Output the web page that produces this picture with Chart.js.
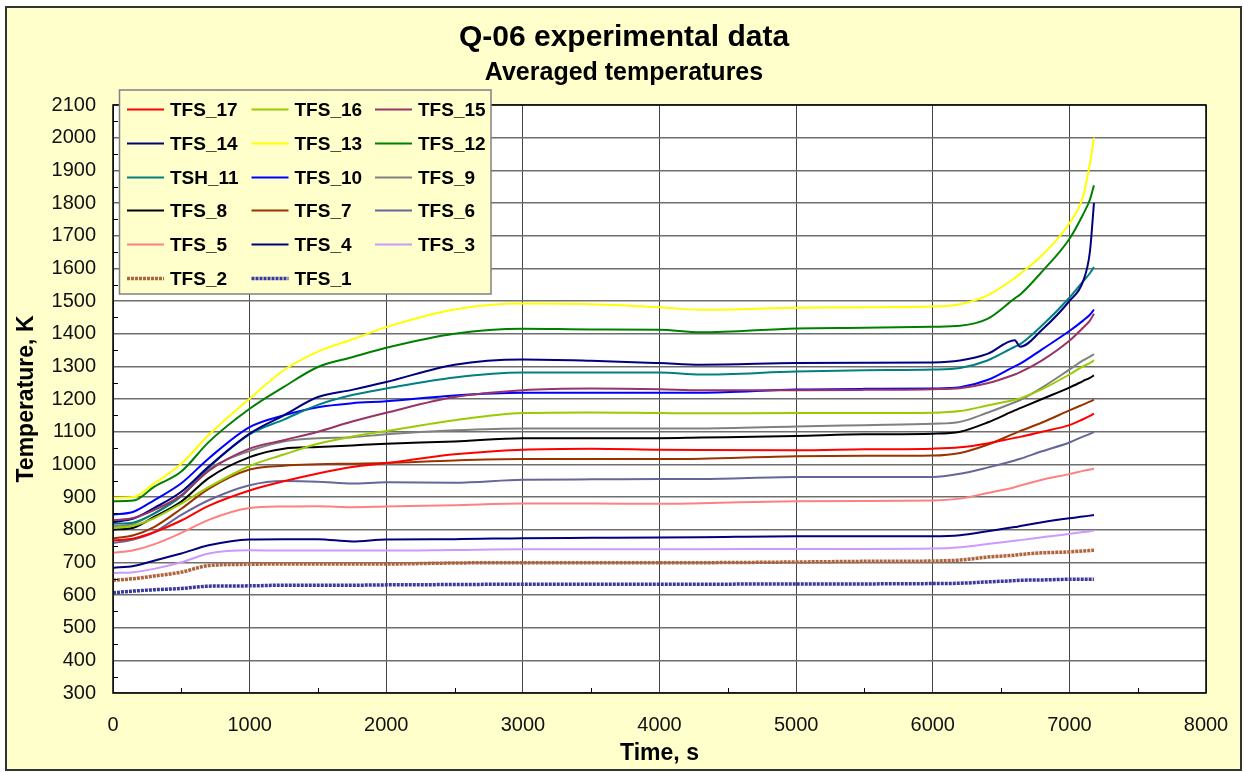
<!DOCTYPE html>
<html>
<head>
<meta charset="utf-8">
<title>Q-06 experimental data</title>
<script src="https://cdn.jsdelivr.net/npm/chart.js@4.4.1/dist/chart.umd.min.js"></script>
<style>
  html, body { margin: 0; padding: 0; background: #ffffff; }
  #wrap { position: relative; width: 1244px; height: 772px; }
</style>
</head>
<body>
<div id="wrap"><canvas id="tempChart" width="1244" height="772"></canvas></div>
<script>
// Time points, s
const times = [0, 150, 300, 500, 700, 1000, 1250, 1500, 1750, 2000, 2500, 3000, 3500, 4000, 4300,
               5000, 5500, 6000, 6200, 6400, 6600, 6640, 6800, 7000, 7100, 7150, 7180];

// Averaged temperatures, K
const tfs17 = [767, 773, 792, 828, 873, 920, 948, 972, 992, 1004, 1031, 1045, 1048, 1045, 1044, 1043, 1046, 1048, 1052, 1064, 1081, 1084, 1100, 1120, 1138, 1148, 1155];
const tfs16 = [805, 812, 835, 880, 930, 995, 1030, 1063, 1085, 1102, 1135, 1157, 1159, 1157, 1156, 1157, 1157, 1158, 1163, 1180, 1198, 1202, 1230, 1275, 1300, 1310, 1318];
const tfs15 = [829, 836, 860, 905, 980, 1048, 1074, 1100, 1131, 1158, 1206, 1227, 1232, 1230, 1227, 1227, 1228, 1230, 1233, 1248, 1275, 1282, 1318, 1378, 1418, 1440, 1461];
const tfs14 = [823, 834, 866, 916, 993, 1094, 1150, 1206, 1228, 1252, 1305, 1321, 1317, 1310, 1305, 1310, 1311, 1312, 1318, 1338, 1380, 1360, 1412, 1500, 1560, 1650, 1800];
const tfs13 = [898, 900, 941, 1002, 1090, 1201, 1288, 1345, 1382, 1420, 1474, 1492, 1490, 1481, 1473, 1479, 1481, 1483, 1490, 1517, 1570, 1583, 1640, 1738, 1820, 1920, 2000];
const tfs12 = [887, 889, 931, 978, 1068, 1170, 1237, 1298, 1328, 1357, 1400, 1415, 1413, 1412, 1404, 1416, 1418, 1421, 1424, 1445, 1508, 1520, 1590, 1690, 1765, 1810, 1854];
const tsh11 = [818, 822, 849, 902, 990, 1092, 1137, 1182, 1212, 1232, 1266, 1281, 1281, 1281, 1275, 1284, 1288, 1290, 1295, 1318, 1360, 1368, 1425, 1510, 1560, 1585, 1604];
const tfs10 = [846, 855, 890, 942, 1018, 1114, 1150, 1175, 1187, 1193, 1211, 1219, 1219, 1219, 1219, 1229, 1231, 1232, 1236, 1258, 1300, 1308, 1352, 1408, 1440, 1458, 1474];
const tfs9  = [810, 818, 849, 905, 985, 1041, 1070, 1080, 1083, 1092, 1104, 1110, 1110, 1110, 1110, 1116, 1120, 1124, 1130, 1158, 1190, 1197, 1235, 1290, 1318, 1330, 1337];
const tfs8  = [800, 806, 839, 886, 958, 1022, 1048, 1053, 1058, 1063, 1070, 1080, 1080, 1080, 1082, 1087, 1092, 1094, 1100, 1128, 1165, 1172, 1200, 1235, 1255, 1265, 1272];
const tfs7  = [773, 783, 808, 864, 925, 984, 996, 1000, 1002, 1004, 1012, 1016, 1016, 1016, 1017, 1025, 1026, 1027, 1035, 1060, 1095, 1102, 1128, 1165, 1183, 1192, 1198];
const tfs6  = [759, 770, 792, 845, 890, 936, 949, 947, 941, 945, 944, 953, 954, 955, 955, 961, 961, 961, 971, 990, 1012, 1017, 1040, 1067, 1085, 1093, 1099];
const tfs5  = [729, 737, 755, 790, 830, 866, 871, 872, 869, 871, 875, 880, 880, 879, 881, 887, 888, 889, 895, 912, 930, 935, 953, 970, 980, 984, 987];
const tfs4  = [683, 689, 705, 727, 752, 770, 771, 771, 764, 770, 771, 774, 775, 776, 777, 780, 780, 780, 783, 795, 808, 811, 823, 835, 840, 843, 845];
const tfs3  = [667, 670, 680, 700, 727, 737, 736, 736, 736, 736, 738, 740, 740, 740, 740, 741, 741, 742, 746, 756, 766, 768, 777, 787, 793, 795, 797];
const tfs2  = [645, 650, 658, 670, 690, 694, 695, 695, 695, 695, 698, 699, 699, 699, 699, 701, 703, 704, 707, 716, 722, 724, 729, 732, 735, 736, 737];
const tfs1  = [607, 612, 616, 620, 627, 628, 630, 630, 630, 631, 632, 633, 633, 633, 633, 634, 634, 635, 636, 640, 644, 645, 646, 648, 648, 648, 648];

const seriesNames = ['TFS_17', 'TFS_16', 'TFS_15', 'TFS_14', 'TFS_13', 'TFS_12', 'TSH_11', 'TFS_10', 'TFS_9',
                     'TFS_8', 'TFS_7', 'TFS_6', 'TFS_5', 'TFS_4', 'TFS_3', 'TFS_2', 'TFS_1'];
const seriesValues = [tfs17, tfs16, tfs15, tfs14, tfs13, tfs12, tsh11, tfs10, tfs9, tfs8, tfs7, tfs6, tfs5, tfs4, tfs3, tfs2, tfs1];
const seriesColors = ['#ff0000', '#99cc00', '#993366', '#000080', '#ffff00', '#008000', '#008080', '#0000ff', '#808080',
                      '#000000', '#993300', '#666699', '#ff8080', '#000080', '#cc99ff', '#b0643c', '#3a3a9e'];

const FONT = "'Liberation Sans', Arial, sans-serif";

const datasets = seriesNames.map((name, i) => {
    // the two lowest series carry dense markers, drawn here as a hatched thick line
    const textured = name === 'TFS_2' || name === 'TFS_1';
    return {
        label: name,
        data: times.map((t, k) => ({ x: t, y: seriesValues[i][k] })),
        borderColor: seriesColors[i],
        backgroundColor: seriesColors[i],
        borderWidth: textured ? 3.5 : 2,
        borderDash: textured ? [3, 1] : [],
        pointRadius: 0,
        cubicInterpolationMode: 'monotone',
        fill: false
    };
});

// Page frame, plot background, plot border, minor ticks, boxed legend and titles
const framePlugin = {
    id: 'frame',
    beforeDraw(chart) {
        const ctx = chart.ctx;
        const a = chart.chartArea;
        ctx.save();
        ctx.fillStyle = '#ffffff';
        ctx.fillRect(0, 0, chart.width, chart.height);
        ctx.fillStyle = '#ffffcc';
        ctx.fillRect(6, 7, 1235, 763);
        ctx.lineWidth = 2;
        ctx.strokeStyle = '#333333';
        ctx.strokeRect(6, 7, 1235, 763);
        ctx.fillStyle = '#ffffff';
        ctx.fillRect(a.left, a.top, a.right - a.left, a.bottom - a.top);
        ctx.restore();
    },
    afterDraw(chart) {
        const ctx = chart.ctx;
        const a = chart.chartArea;
        const xs = chart.scales.x;
        const ys = chart.scales.y;
        ctx.save();
        // minor ticks pointing into the plot
        ctx.strokeStyle = '#000000';
        ctx.lineWidth = 1;
        ctx.beginPath();
        for (let v = 350; v < 2100; v += 100) {
            const py = Math.round(ys.getPixelForValue(v)) + 0.5;
            ctx.moveTo(a.left, py);
            ctx.lineTo(a.left + 5, py);
        }
        for (let v = 500; v < 8000; v += 1000) {
            const px = Math.round(xs.getPixelForValue(v)) + 0.5;
            ctx.moveTo(px, a.bottom);
            ctx.lineTo(px, a.bottom - 5);
        }
        ctx.stroke();
        // plot border
        ctx.lineWidth = 1.5;
        ctx.strokeRect(a.left, a.top, a.right - a.left, a.bottom - a.top);

        // legend box
        const box = { x: 119.5, y: 90, w: 371.5, h: 204 };
        ctx.fillStyle = '#ffffcc';
        ctx.fillRect(box.x, box.y, box.w, box.h);
        ctx.strokeStyle = '#808080';
        ctx.lineWidth = 1.5;
        ctx.strokeRect(box.x, box.y, box.w, box.h);

        const colX = [127, 251.5, 375];
        const rowY0 = 109;
        const rowStep = 33.8;
        ctx.font = 'bold 19px ' + FONT;
        ctx.textBaseline = 'middle';
        ctx.textAlign = 'left';
        chart.data.datasets.forEach((ds, i) => {
            const cx = colX[i % 3];
            const cy = Math.round(rowY0 + Math.floor(i / 3) * rowStep) + 0.5;
            ctx.strokeStyle = ds.borderColor;
            ctx.lineWidth = ds.borderWidth;
            ctx.setLineDash(ds.borderDash);
            ctx.beginPath();
            ctx.moveTo(cx, cy);
            ctx.lineTo(cx + 37, cy);
            ctx.stroke();
            ctx.setLineDash([]);
            ctx.fillStyle = '#000000';
            ctx.fillText(ds.label, cx + 43, cy + 1);
        });

        // chart titles
        ctx.textAlign = 'center';
        ctx.textBaseline = 'alphabetic';
        ctx.fillStyle = '#000000';
        ctx.font = 'bold 30px ' + FONT;
        ctx.fillText('Q-06 experimental data', 624, 46);
        ctx.font = 'bold 25px ' + FONT;
        ctx.fillText('Averaged temperatures', 624, 80);
        ctx.restore();
    }
};

const ctx = document.getElementById('tempChart').getContext('2d');
const tempChart = new Chart(ctx, {
    type: 'line',
    data: { datasets: datasets },
    options: {
        responsive: false,
        animation: false,
        devicePixelRatio: 1,
        layout: { padding: { left: 0, right: 38, top: 105, bottom: 0 } },
        plugins: {
            legend: { display: false },
            title: { display: false },
            tooltip: { enabled: false }
        },
        scales: {
            x: {
                type: 'linear',
                min: 0,
                max: 8000,
                ticks: {
                    stepSize: 1000, padding: 10, maxRotation: 0,
                    color: '#111111', font: { family: FONT, size: 20 },
                    callback: (v) => String(v)
                },
                // invisible tick marks keep the labels clear of the axis
                grid: { color: '#444444', lineWidth: 1, drawTicks: true, tickLength: 10, tickColor: 'rgba(0,0,0,0)' },
                border: { display: false },
                title: { display: true, text: 'Time, s', color: '#000000', font: { family: FONT, size: 23, weight: 'bold' }, padding: { top: 0, bottom: 5 } },
                afterFit(scale) { scale.height = 79; }
            },
            y: {
                min: 300,
                max: 2100,
                ticks: {
                    stepSize: 100, padding: 17,
                    color: '#111111', font: { family: FONT, size: 20 },
                    callback: (v) => String(v)
                },
                grid: { color: '#6e6e6e', lineWidth: 1.6, drawTicks: false },
                border: { display: false },
                title: { display: true, text: 'Temperature, K', color: '#000000', font: { family: FONT, size: 23, weight: 'bold' }, padding: { top: 13, bottom: 0 } },
                afterFit(scale) { scale.width = 113; }
            }
        }
    },
    plugins: [framePlugin]
});
</script>
</body>
</html>
